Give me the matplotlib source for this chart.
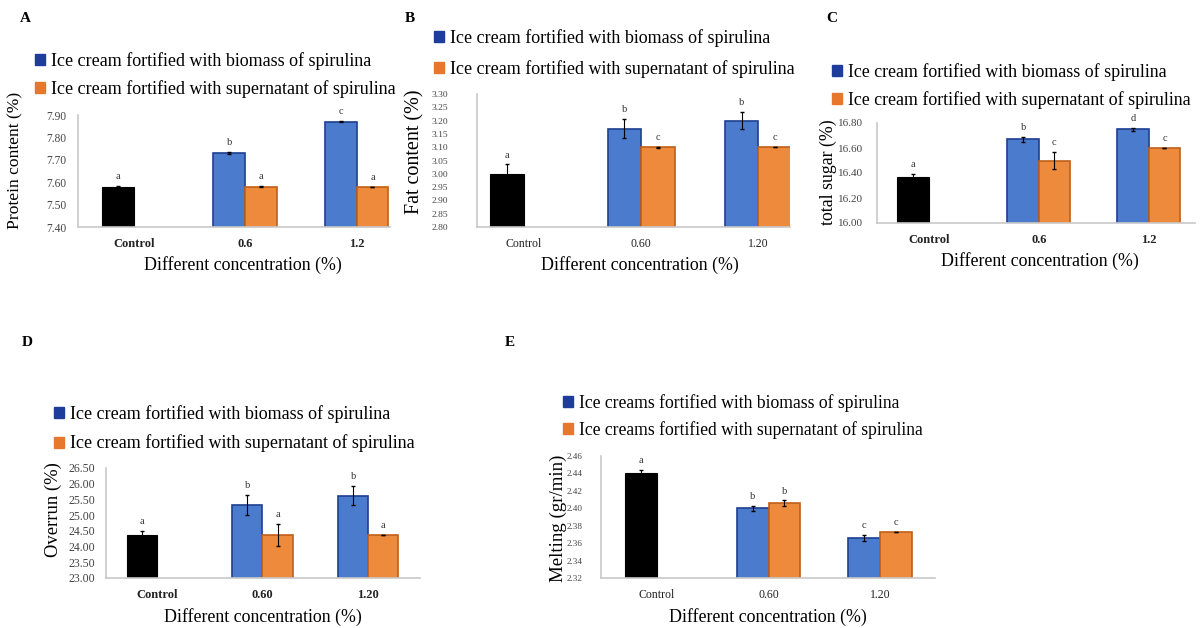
import numpy as np
import matplotlib
matplotlib.use('Agg')
import matplotlib.pyplot as plt
from matplotlib.patches import Patch

plt.rcParams['font.family'] = ['Liberation Serif', 'DejaVu Serif']

# Data
concentrations_A = ['Control', '0.6', '1.2']
protein_control = [7.58, 0.003]
protein_biomass = [7.73, 7.87]
protein_biomass_err = [0.005, 0.002]
protein_super = [7.58, 7.58]
protein_super_err = [0.003, 0.0]
protein_letters = ['a', 'b', 'a', 'c', 'a']

concentrations_B = ['Control', '0.60', '1.20']
fat_control = [3.00, 0.035]
fat_biomass = [3.17, 3.20]
fat_biomass_err = [0.035, 0.033]
fat_super = [3.10, 3.10]
fat_super_err = [0.002, 0.0]
fat_letters = ['a', 'b', 'c', 'b', 'c']

concentrations_C = ['Control', '0.6', '1.2']
sugar_control = [16.37, 0.02]
sugar_biomass = [16.67, 16.75]
sugar_biomass_err = [0.02, 0.01]
sugar_super = [16.50, 16.60]
sugar_super_err = [0.07, 0.0]
sugar_letters = ['a', 'b', 'c', 'd', 'c']

concentrations_D = ['Control', '0.60', '1.20']
overrun_control = [24.38, 0.12]
overrun_biomass = [25.32, 25.62]
overrun_biomass_err = [0.32, 0.30]
overrun_super = [24.37, 24.37]
overrun_super_err = [0.35, 0.0]
overrun_letters = ['a', 'b', 'a', 'b', 'a']

concentrations_E = ['Control', '0.60', '1.20']
melting_control = [2.440, 0.004]
melting_biomass = [2.400, 2.366]
melting_biomass_err = [0.003, 0.003]
melting_super = [2.406, 2.373]
melting_super_err = [0.003, 0.0]
melting_letters = ['a', 'b', 'b', 'c', 'c']

BLUE, BLUE_EDGE = '#4a7bcc', '#1f3f8f'
ORANGE, ORANGE_EDGE = '#ed8a3c', '#c0601a'
W, H = 1201, 628


def px_box(x0, x1, ytop, ybot):
    return [x0 / W, 1 - ybot / H, (x1 - x0) / W, (ybot - ytop) / H]


def draw_panel(box, xlim, cats, ctrl, bio, bio_err, sup, sup_err, letters,
               yticks, ylabel, bold_cats, leg_xy, leg_size, leg_gap,
               ylab_xy, ylab_size, xlab_xy, panel_xy, panel_letter,
               tick_size, tick_pad, leg_text='Ice cream'):
    ax = fig.add_axes(px_box(*box))
    w = 0.285
    x = np.arange(len(cats))
    ax.bar(x[0] - w / 2, ctrl[0], w, color='black', edgecolor='black', lw=0.8)
    ax.bar(x[1:] - w / 2, bio, w, color=BLUE, edgecolor=BLUE_EDGE, lw=1.2)
    ax.bar(x[1:] + w / 2, sup, w, color=ORANGE, edgecolor=ORANGE_EDGE, lw=1.2)
    ax.errorbar(x[0] - w / 2, ctrl[0], yerr=ctrl[1], fmt='none', ecolor='black',
                elinewidth=0.8, capsize=1.5)
    ax.errorbar(x[1:] - w / 2, bio, yerr=bio_err, fmt='none', ecolor='black',
                elinewidth=0.8, capsize=1.5)
    ax.errorbar(x[1:] + w / 2, sup, yerr=sup_err, fmt='none', ecolor='black',
                elinewidth=0.8, capsize=1.5)

    # significance letters
    xs = [x[0] - w / 2, x[1] - w / 2, x[1] + w / 2, x[2] - w / 2, x[2] + w / 2]
    tops = [ctrl[0] + ctrl[1], bio[0] + bio_err[0], sup[0] + sup_err[0],
            bio[1] + bio_err[1], sup[1] + sup_err[1]]
    for xi, ti, lt in zip(xs, tops, letters):
        ax.annotate(lt, (xi, ti), xytext=(0, 3.5), textcoords='offset points',
                    ha='center', va='bottom', fontsize=7.5, color='#333333')

    ax.set_xlim(*xlim)
    ax.set_ylim(yticks[0], yticks[-1])
    ax.set_yticks(yticks)
    ax.set_yticklabels(['%.2f' % t for t in yticks], fontsize=tick_size,
                       color='#444444')
    ax.set_xticks(x)
    ax.set_xticklabels(cats, fontsize=9 if bold_cats else 8.5,
                       fontweight='bold' if bold_cats else 'normal',
                       color='#222222')
    ax.tick_params(length=0)
    ax.tick_params(axis='x', pad=8)
    ax.tick_params(axis='y', pad=tick_pad)
    for s in ['top', 'right']:
        ax.spines[s].set_visible(False)
    for s in ['left', 'bottom']:
        ax.spines[s].set_color('#c8c8c8')
        ax.spines[s].set_linewidth(1.2)

    ax.set_ylabel(ylabel, fontsize=ylab_size, va='center')
    ax.yaxis.set_label_coords(ylab_xy[0] / W, 1 - ylab_xy[1] / H,
                              transform=fig.transFigure)
    ax.set_xlabel('Different concentration (%)', fontsize=12.9, va='center')
    ax.xaxis.set_label_coords(xlab_xy[0] / W, 1 - xlab_xy[1] / H,
                              transform=fig.transFigure)

    handles = [Patch(facecolor='#1e3c9c', edgecolor='#1e3c9c'),
               Patch(facecolor='#e8772e', edgecolor='#e8772e')]
    labels = [leg_text + ' fortified with biomass of spirulina',
              leg_text + ' fortified with supernatant of spirulina']
    ax.legend(handles, labels, loc='upper left', frameon=False,
              bbox_to_anchor=(leg_xy[0] / W, 1 - leg_xy[1] / H),
              bbox_transform=fig.transFigure, fontsize=leg_size,
              handlelength=0.55, handleheight=0.55, handletextpad=0.35,
              labelspacing=leg_gap, borderpad=0, borderaxespad=0)

    fig.text(panel_xy[0] / W, 1 - panel_xy[1] / H, panel_letter,
             fontsize=11, fontweight='bold', ha='left', va='center')
    return ax


fig = plt.figure(figsize=(12.01, 6.28), dpi=100)

draw_panel((78, 390, 115, 227), (-0.5, 2.3), concentrations_A, protein_control,
           protein_biomass, protein_biomass_err, protein_super, protein_super_err,
           protein_letters, np.round(np.arange(7.40, 7.901, 0.10), 2),
           'Protein content (%)', True, (35, 52), 13, 0.55, (15, 160), 12.6,
           (243, 265), (20, 18), 'A', 8.3, 8.6)

draw_panel((477, 790, 94, 227), (-0.4, 2.27), concentrations_B, fat_control,
           fat_biomass, fat_biomass_err, fat_super, fat_super_err,
           fat_letters, np.round(np.arange(2.80, 3.301, 0.05), 2),
           'Fat content (%)', False, (434, 29), 13, 0.75, (415, 152), 14.5,
           (640, 265), (405, 18), 'B', 6.8, 21)

draw_panel((877, 1195, 123, 223), (-0.47, 2.42), concentrations_C, sugar_control,
           sugar_biomass, sugar_biomass_err, sugar_super, sugar_super_err,
           sugar_letters, np.round(np.arange(16.00, 16.801, 0.20), 2),
           'total sugar (%)', True, (832, 63), 12.9, 0.55, (828, 172), 12.8,
           (1040, 261), (826, 18), 'C', 8, 10)

draw_panel((106, 420, 468, 578), (-0.48, 2.49), concentrations_D, overrun_control,
           overrun_biomass, overrun_biomass_err, overrun_super, overrun_super_err,
           overrun_letters, np.round(np.arange(23.00, 26.501, 0.50), 2),
           'Overrun (%)', True, (54, 405), 13, 0.65, (53, 510), 13.4,
           (263, 617), (22, 343), 'D', 8.6, 8)

draw_panel((601, 935, 456, 578), (-0.5, 2.49), concentrations_E, melting_control,
           melting_biomass, melting_biomass_err, melting_super, melting_super_err,
           melting_letters, np.round(np.arange(2.32, 2.461, 0.02), 2),
           'Melting (gr/min)', False, (563, 394), 12.7, 0.5, (558, 518), 13.6,
           (768, 617), (505, 343), 'E', 6.6, 13, leg_text='Ice creams')

fig.savefig('out.png', dpi=100)
